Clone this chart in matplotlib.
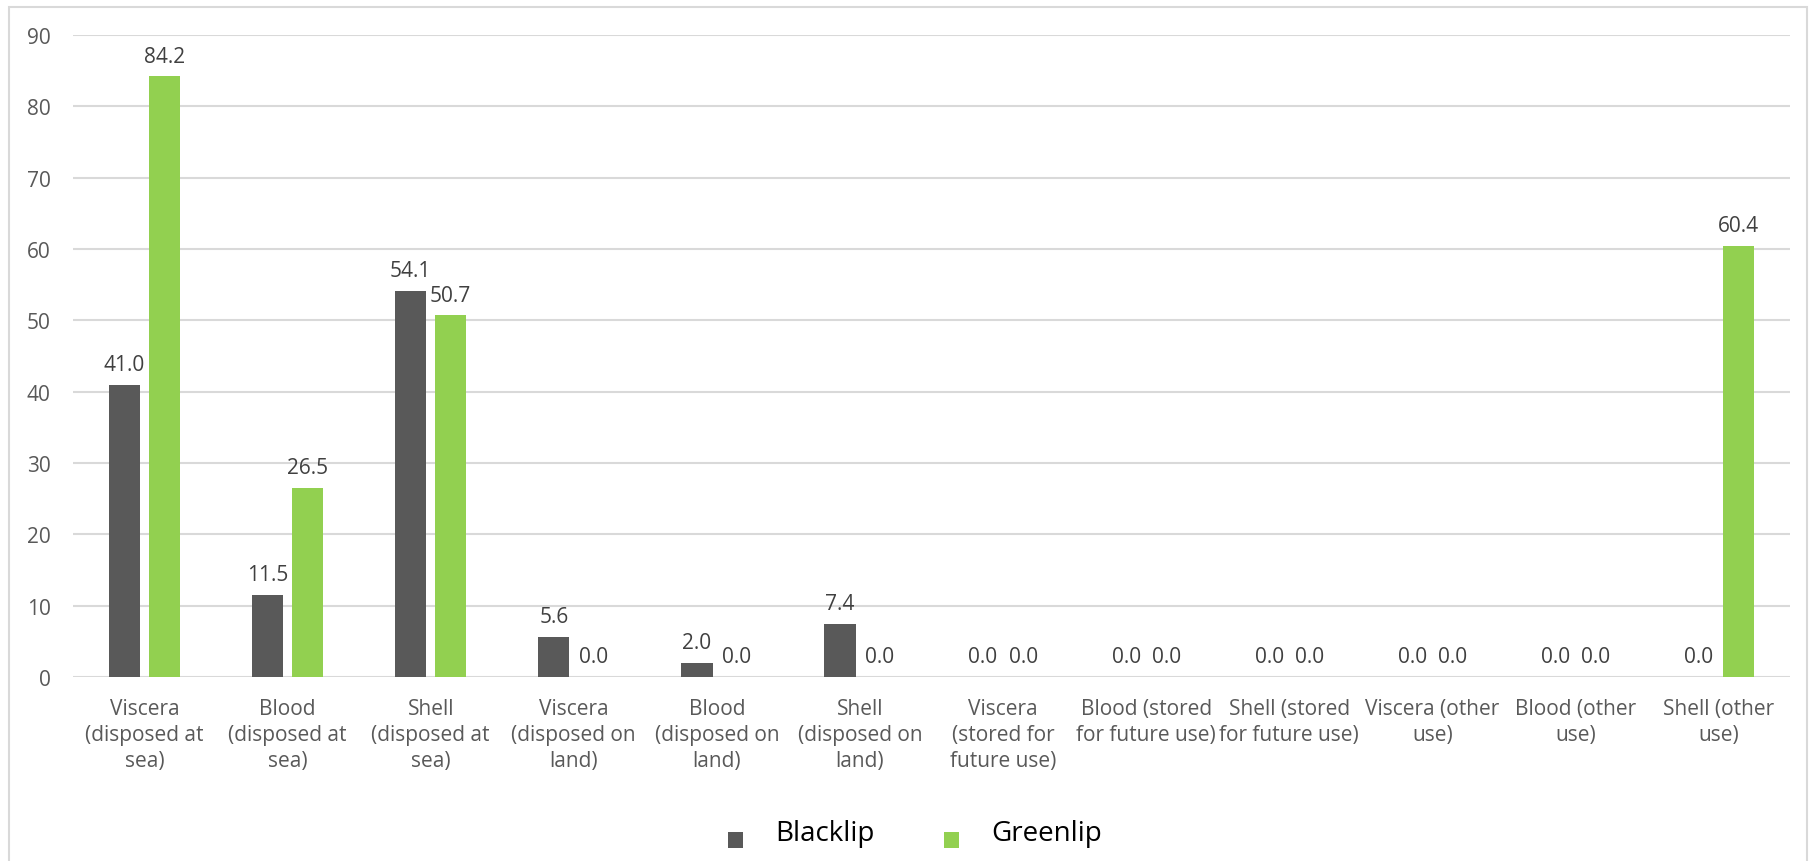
import matplotlib
matplotlib.use("Agg")
import matplotlib.pyplot as plt
import numpy as np
from matplotlib.patches import Rectangle
from matplotlib.legend_handler import HandlerPatch

plt.rcParams['font.family'] = ['Open Sans', 'DejaVu Sans']

categories = [
    "Viscera\n(disposed at\nsea)", "Blood\n(disposed at\nsea)", "Shell\n(disposed at\nsea)",
    "Viscera\n(disposed on\nland)", "Blood\n(disposed on\nland)", "Shell\n(disposed on\nland)",
    "Viscera\n(stored for\nfuture use)", "Blood (stored\nfor future use)", "Shell (stored\nfor future use)",
    "Viscera (other\nuse)", "Blood (other\nuse)", "Shell (other\nuse)",
]
blacklip = [41.0, 11.5, 54.1, 5.6, 2.0, 7.4, 0.0, 0.0, 0.0, 0.0, 0.0, 0.0]
greenlip = [84.2, 26.5, 50.7, 0.0, 0.0, 0.0, 0.0, 0.0, 0.0, 0.0, 0.0, 60.4]
series_names = ["Blacklip", "Greenlip"]
y_ticks = [0, 10, 20, 30, 40, 50, 60, 70, 80, 90]

BLACK = "#595959"
GREEN = "#92D050"
GRID = "#D9D9D9"
TEXT = "#595959"

W, H = 1814, 862
fig = plt.figure(figsize=(W / 100, H / 100), dpi=100)
ax = fig.add_axes([73 / W, 1 - 678 / H, (1790 - 73) / W, (678 - 36) / H])

# chart frame
fig.add_artist(Rectangle((9 / W, -0.05), (1807 - 9) / W, 1.05 - 8 / H,
                         transform=fig.transFigure, fill=False,
                         edgecolor=GRID, linewidth=1.5))

x = np.arange(len(categories))
bw = 0.22
off = 0.14
b1 = ax.bar(x - off, blacklip, bw, color=BLACK, label=series_names[0], zorder=3)
b2 = ax.bar(x + off, greenlip, bw, color=GREEN, label=series_names[1], zorder=3)

for bars in (b1, b2):
    ax.bar_label(bars, fmt="%.1f", padding=7, fontsize=15, color="#404040")

ax.set_xlim(-0.5, len(categories) - 0.5)
ax.set_ylim(0, 90)
ax.set_yticks(y_ticks)
ax.set_xticks(x)
ax.set_xticklabels(categories, fontsize=15, color=TEXT, linespacing=1.32)
ax.tick_params(axis='y', length=0, pad=16, labelsize=15, labelcolor=TEXT)
ax.tick_params(axis='x', length=0, pad=15)
ax.grid(axis='y', color=GRID, linewidth=1.5, zorder=0)
for s in ax.spines.values():
    s.set_visible(False)


def low_square(legend, orig_handle, xdescent, ydescent, width, height, fontsize):
    # legend key sits slightly below the text centre
    return Rectangle((-xdescent + 1.5, -ydescent - 7), width, height)


keys = [b1.patches[0], b2.patches[0]]
leg = fig.legend(keys, series_names, loc='center', bbox_to_anchor=(914 / W, 1 - 834 / H),
                 ncol=2, frameon=False, fontsize=20, handlelength=0.55, handleheight=0.55,
                 handletextpad=1.25, columnspacing=2.4, labelcolor='black',
                 handler_map={Rectangle: HandlerPatch(patch_func=low_square)})

fig.savefig("out.png", dpi=100)
